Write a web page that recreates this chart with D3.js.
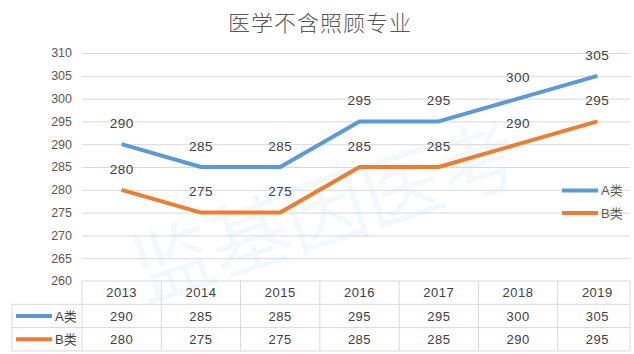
<!DOCTYPE html>
<html>
<head>
<meta charset="utf-8">
<script src="https://cdn.jsdelivr.net/npm/d3@7"></script>
<style>
  body { margin: 0; background: #fff; }
  svg { display: block; font-family: "Liberation Sans", "Noto Sans CJK SC", sans-serif; }
  .grid line { stroke: #d9d9d9; stroke-width: 1; }
  .grid path { display: none; }
  .tbl line { stroke: #d9d9d9; stroke-width: 1; }
</style>
</head>
<body>
<svg id="chart" width="634" height="354"></svg>
<script>
// data
const years = ["2013", "2014", "2015", "2016", "2017", "2018", "2019"];
const seriesNames = ["A类", "B类"];
const valuesA = [290, 285, 285, 295, 295, 300, 305];
const valuesB = [280, 275, 275, 285, 285, 290, 295];
const yTicks = [260, 265, 270, 275, 280, 285, 290, 295, 300, 305, 310];
const colors = ["#5b9bd5", "#ed7d31"];

const series = [valuesA, valuesB];

const svg = d3.select("#chart");
const plotLeft = 82, plotRight = 637, gridEnd = 630;
const plotTop = 53, plotBottom = 281;

const x = d3.scaleBand().domain(years).range([plotLeft, plotRight]);
const y = d3.scaleLinear().domain([260, 310]).range([plotBottom, plotTop]);

// title
svg.append("text")
    .attr("x", 320).attr("y", 31)
    .attr("text-anchor", "middle")
    .attr("font-size", 22)
    .attr("font-weight", 300)
    .attr("letter-spacing", 1)
    .attr("fill", "#595959")
    .attr("font-family", "Noto Sans CJK SC")
    .text("医学不含照顾专业");

// watermark
svg.append("text")
    .attr("transform", "translate(335,240) rotate(-18)")
    .attr("text-anchor", "middle")
    .attr("font-size", 80)
    .attr("fill", "#5b9bd5")
    .attr("fill-opacity", 0.07)
    .attr("font-family", "Noto Sans CJK SC")
    .text("监基因医考");

// gridlines
svg.append("g")
    .attr("class", "grid")
    .attr("transform", "translate(" + plotLeft + ",0)")
    .call(d3.axisRight(y).tickValues(yTicks.slice(1)).tickSize(gridEnd - plotLeft).tickFormat(""));

// y labels
svg.append("g")
    .selectAll("text")
    .data(yTicks)
    .enter().append("text")
      .attr("x", 72)
      .attr("y", d => y(d))
      .attr("dy", "0.35em")
      .attr("text-anchor", "end")
      .attr("font-size", 12.5)
      .attr("fill", "#595959")
      .text(d => d);

// lines
const line = d3.line()
    .x((d, i) => x(years[i]) + x.bandwidth() / 2)
    .y(d => y(d));

series.forEach((vals, k) => {
  svg.append("path")
      .datum(vals)
      .attr("fill", "none")
      .attr("stroke", colors[k])
      .attr("stroke-width", 4)
      .attr("stroke-linejoin", "round")
      .attr("d", line);
});

// data labels
series.forEach((vals, k) => {
  svg.append("g")
    .selectAll("text")
    .data(vals)
    .enter().append("text")
      .attr("x", (d, i) => x(years[i]) + x.bandwidth() / 2)
      .attr("y", d => y(d) - 21)
      .attr("dy", "0.35em")
      .attr("text-anchor", "middle")
      .attr("font-size", 13.5)
      .attr("letter-spacing", 0.5)
      .attr("fill", "#404040")
      .text(d => d);
});

// legend
const legend = svg.append("g");
seriesNames.forEach((name, k) => {
  const ly = 190.5 + k * 22.5;
  legend.append("line")
      .attr("x1", 562).attr("x2", 598)
      .attr("y1", ly).attr("y2", ly)
      .attr("stroke", colors[k]).attr("stroke-width", 4);
  legend.append("text")
      .attr("x", 601).attr("y", ly)
      .attr("dy", "0.35em")
      .attr("font-size", 13)
      .attr("fill", "#595959")
      .text(name);
});

// data table
const rowH = 23.3;
const tbl = svg.append("g").attr("class", "tbl");
const tableLeft = 12;
// horizontal borders
tbl.append("line").attr("x1", plotLeft).attr("x2", gridEnd).attr("y1", plotBottom).attr("y2", plotBottom);
[1, 2, 3].forEach(r => {
  tbl.append("line")
      .attr("x1", tableLeft).attr("x2", gridEnd)
      .attr("y1", plotBottom + r * rowH).attr("y2", plotBottom + r * rowH);
});
// vertical borders
tbl.append("line").attr("x1", tableLeft).attr("x2", tableLeft)
    .attr("y1", plotBottom + rowH).attr("y2", plotBottom + 3 * rowH);
years.forEach(yr => {
  tbl.append("line").attr("x1", x(yr)).attr("x2", x(yr))
      .attr("y1", plotBottom).attr("y2", plotBottom + 3 * rowH);
});
tbl.append("line").attr("x1", gridEnd).attr("x2", gridEnd)
    .attr("y1", plotBottom).attr("y2", plotBottom + 3 * rowH);

// header row
tbl.selectAll(".yr")
  .data(years)
  .enter().append("text")
    .attr("x", d => x(d) + x.bandwidth() / 2)
    .attr("y", plotBottom + rowH / 2)
    .attr("dy", "0.35em")
    .attr("text-anchor", "middle")
    .attr("font-size", 13)
    .attr("letter-spacing", 0.5)
    .attr("fill", "#404040")
    .text(d => d);

// value rows
series.forEach((vals, k) => {
  const ry = plotBottom + (k + 1) * rowH + rowH / 2;
  tbl.append("line")
      .attr("x1", 16).attr("x2", 52)
      .attr("y1", ry).attr("y2", ry)
      .style("stroke", colors[k]).style("stroke-width", 4);
  tbl.append("text")
      .attr("x", 55).attr("y", ry)
      .attr("dy", "0.35em")
      .attr("font-size", 13)
      .attr("fill", "#404040")
      .text(seriesNames[k]);
  tbl.selectAll(".v" + k)
    .data(vals)
    .enter().append("text")
      .attr("x", (d, i) => x(years[i]) + x.bandwidth() / 2)
      .attr("y", ry)
      .attr("dy", "0.35em")
      .attr("text-anchor", "middle")
      .attr("font-size", 13)
      .attr("letter-spacing", 0.5)
      .attr("fill", "#404040")
      .text(d => d);
});
</script>
</body>
</html>
